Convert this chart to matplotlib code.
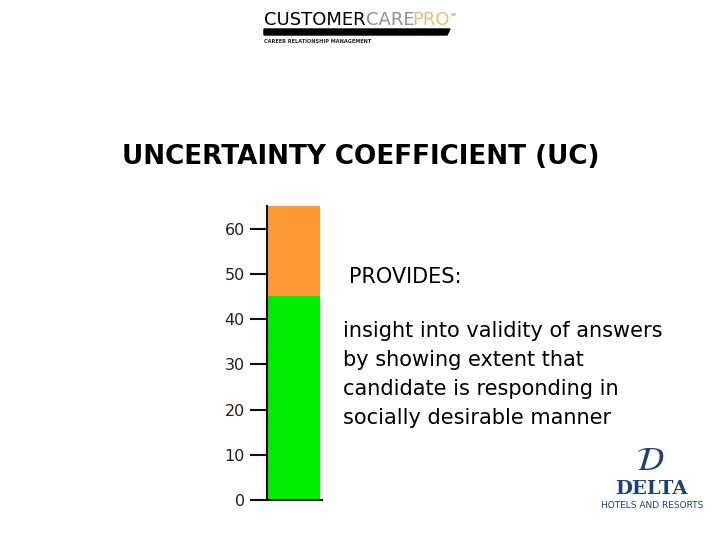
import matplotlib.pyplot as plt

# data
segments = ['low', 'high']
seg_bottom = [0, 45]
seg_height = [45, 20]
seg_colors = ['#00ee00', '#ff9933']
yticks = [0, 10, 20, 30, 40, 50, 60]

title = 'UNCERTAINTY COEFFICIENT (UC)'
body_lines = ['insight into validity of answers',
              'by showing extent that',
              'candidate is responding in',
              'socially desirable manner']

W, H = 720, 540
fig = plt.figure(figsize=(7.2, 5.4), dpi=100)

def fx(px):
    return px / W

def fy(py):
    return 1 - py / H

# bar axes: 0 at y=500px, 65 at y=206px
ax = fig.add_axes([fx(267), fy(500), fx(55), (500 - 206) / H])
ax.bar([0], seg_height, bottom=seg_bottom, width=53 / 55, align='edge',
       color=seg_colors, edgecolor='none')
ax.set_xlim(0, 1)
ax.set_ylim(0, 65)
ax.set_yticks(yticks)
ax.set_xticks([])
for s in ['top', 'right']:
    ax.spines[s].set_visible(False)
for s in ['left', 'bottom']:
    ax.spines[s].set_linewidth(1.5)
    ax.spines[s].set_color('#1a0a0a')
ax.tick_params(axis='y', length=12.5, width=1.5, color='#1a0a0a', pad=3.5,
               labelsize=11.5, labelcolor='#2a1a1a')

# title and text
fig.text(fx(361), fy(157), title, ha='center', va='center',
         fontsize=18.9, fontweight='bold', family='DejaVu Sans')
fig.text(fx(349), fy(277), 'PROVIDES:', ha='left', va='center',
         fontsize=15, family='DejaVu Sans')
for i, line in enumerate(body_lines):
    fig.text(fx(343), fy(331 + i * 29), line, ha='left', va='center',
             fontsize=15, family='DejaVu Sans')

# top logo
fig.text(fx(264), fy(20), 'CUSTOMER', ha='left', va='center', fontsize=13,
         color='black', family='DejaVu Sans')
fig.text(fx(366), fy(20), 'CARE', ha='left', va='center', fontsize=13,
         color='#909090', family='DejaVu Sans')
fig.text(fx(412), fy(20), 'PRO', ha='left', va='center', fontsize=13,
         color='#d9c27a', family='DejaVu Sans')
fig.text(fx(451), fy(15), 'SM', ha='left', va='center', fontsize=3,
         color='#909090')
fig.patches.append(plt.Polygon([(fx(264), fy(29)), (fx(450), fy(29)),
                                (fx(447), fy(35)), (fx(264), fy(35))],
                               closed=True, transform=fig.transFigure,
                               color='black'))
fig.text(fx(264), fy(42), 'CAREER RELATIONSHIP MANAGEMENT', ha='left',
         va='center', fontsize=3.6, fontweight='bold', color='#222222')

# delta logo
fig.text(fx(650), fy(461), r'$\mathcal{D}$', ha='center', va='center',
         fontsize=24, color='#1f3f7a')
fig.text(fx(651), fy(489), 'DELTA', ha='center', va='center', fontsize=14,
         fontweight='bold', color='#1f3f7a', family='DejaVu Serif')
fig.text(fx(652), fy(506), 'HOTELS AND RESORTS', ha='center', va='center',
         fontsize=6.5, color='#1f3f7a', family='DejaVu Sans')

fig.savefig('out.png', dpi=100)
